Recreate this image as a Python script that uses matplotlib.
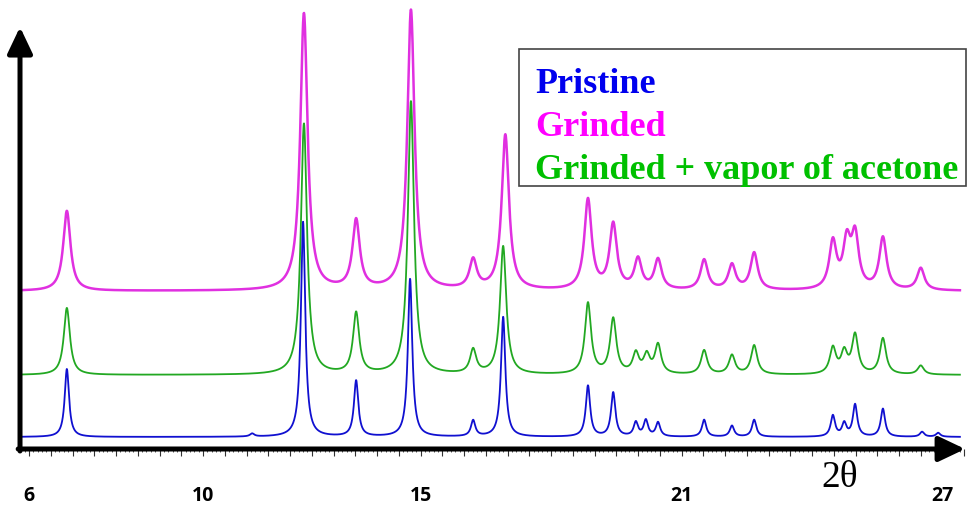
#!/usr/bin/env python3
"""XRD patterns: pristine, grinded and grinded + acetone vapour (stacked)."""

import numpy as np
import matplotlib
matplotlib.use('Agg')
import matplotlib.pyplot as plt
from matplotlib.patches import Rectangle
from matplotlib.ticker import FixedLocator, FuncFormatter

# ============================================================================
# DATA (peak positions in 2-theta, peak intensities in arbitrary units)
# ============================================================================

PRISTINE_POS = [6.87, 11.13, 12.30, 13.52, 14.76, 16.21, 16.90, 18.85, 19.43,
                19.95, 20.18, 20.46, 21.52, 22.16, 22.67, 24.48, 24.74, 24.99,
                25.63, 26.53, 26.90]
PRISTINE_INT = [68, 3, 215, 56, 158, 16, 120, 51, 44,
                14, 16, 14, 17, 11, 17, 21, 13, 32,
                28, 5, 4]

ACETONE_POS = [6.87, 12.32, 13.52, 14.78, 16.21, 16.90, 18.85, 19.43, 19.95,
               20.20, 20.46, 21.52, 22.16, 22.67, 24.48, 24.74, 24.99, 25.63,
               26.50]
ACETONE_INT = [67, 251, 61, 273, 24, 128, 71, 55, 20,
               18, 29, 24, 19, 29, 26, 21, 39, 36,
               9]

GRINDED_POS = [6.87, 12.32, 13.52, 14.78, 16.21, 16.95, 18.85, 19.43, 20.00,
               20.46, 21.52, 22.16, 22.67, 24.48, 24.80, 24.99, 25.63, 26.50]
GRINDED_INT = [80, 277, 69, 280, 29, 155, 90, 65, 30,
               30, 30, 25, 37, 47, 45, 52, 52, 22]

TICK_LABELS = [6, 10, 15, 21, 27]
LEGEND_LABELS = ['Pristine', 'Grinded', 'Grinded + vapor of acetone']

# ============================================================================
# STYLE
# ============================================================================

BLUE = '#1010d0'
MAGENTA = '#e030e0'
GREEN = '#22a822'
LEGEND_COLORS = ['#0000ee', '#ff00ff', '#00c000']


def profile(x, positions, intensities, hwhm):
    """Sum of Lorentzian peaks."""
    y = np.zeros_like(x)
    for p, h in zip(positions, intensities):
        y += h * hwhm ** 2 / ((x - p) ** 2 + hwhm ** 2)
    return y


def main():
    fig = plt.figure(figsize=(9.68, 5.06), dpi=100)
    ax = fig.add_axes([0, 0, 1, 1])
    ax.set_xlim(5.333, 27.586)
    ax.set_ylim(-56, 450)

    tt = np.linspace(5.85, 27.4, 4000)
    ax.plot(tt, 158 + profile(tt, GRINDED_POS, GRINDED_INT, 0.10),
            color=MAGENTA, lw=1.8, zorder=2)
    ax.plot(tt, 74 + profile(tt, ACETONE_POS, ACETONE_INT, 0.085),
            color=GREEN, lw=1.3, zorder=3)
    ax.plot(tt, 12 + profile(tt, PRISTINE_POS, PRISTINE_INT, 0.06),
            color=BLUE, lw=1.3, zorder=4)

    # axes drawn as thick arrows
    for s in ax.spines.values():
        s.set_visible(False)
    ax.spines['bottom'].set_position(('data', 0))
    arrow = dict(arrowstyle='-|>,head_length=0.8,head_width=0.38', lw=3.6,
                 color='black', mutation_scale=20, shrinkA=0, shrinkB=0)
    ax.annotate('', xy=(27.52, 0), xytext=(5.75, 0), arrowprops=arrow, zorder=5)
    ax.annotate('', xy=(5.793, 422), xytext=(5.793, -2), arrowprops=arrow, zorder=5)

    ax.xaxis.set_major_locator(FixedLocator(np.arange(6, 27.51, 0.5)))
    ax.xaxis.set_minor_locator(FixedLocator(np.arange(5.9, 27.55, 0.1)))
    ax.xaxis.set_major_formatter(FuncFormatter(
        lambda v, p: f'{v:.0f}' if round(v, 1) in TICK_LABELS else ''))
    ax.tick_params(axis='x', which='major', direction='out', length=5,
                   width=0.8, color='#333333', pad=21, labelsize=14)
    ax.tick_params(axis='x', which='minor', direction='out', length=2.5,
                   width=0.7, color='#555555')
    for lab in ax.get_xticklabels():
        lab.set_fontweight('bold')
        lab.set_family('Open Sans')
    ax.set_yticks([])

    fig.text(840 / 968, 1 - 487 / 506, '2θ', ha='center', va='baseline',
             fontsize=27, family='Liberation Serif', color='black')

    # legend box
    fig.add_artist(Rectangle((519 / 968, 1 - 187 / 506), 447 / 968, 137 / 506,
                             transform=fig.transFigure, fill=False,
                             edgecolor='#444444', lw=1.2))
    for i, (txt, col) in enumerate(zip(LEGEND_LABELS, LEGEND_COLORS)):
        fig.text(535 / 968, 1 - (93 + 43 * i) / 506, txt, color=col,
                 fontsize=26, fontweight='bold', family='Liberation Serif',
                 ha='left', va='baseline')

    fig.savefig('out.png', dpi=100)


if __name__ == '__main__':
    main()
